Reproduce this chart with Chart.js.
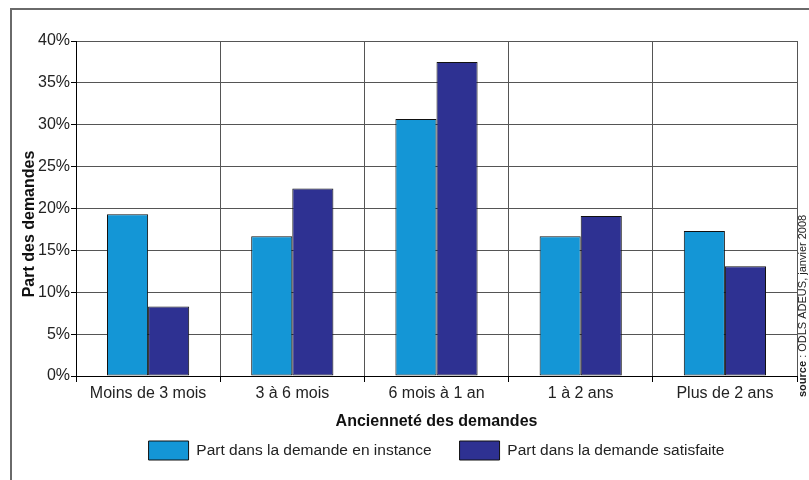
<!DOCTYPE html>
<html lang="fr">
<head>
<meta charset="utf-8">
<title>Ancienneté des demandes</title>
<script src="https://cdn.jsdelivr.net/npm/chart.js@4/dist/chart.umd.min.js"></script>
<style>
  html, body { margin: 0; padding: 0; background: #fff; }
  #wrap { width: 809px; height: 480px; position: relative; }
</style>
</head>
<body>
<div id="wrap"><canvas id="c" width="809" height="480"></canvas></div>
<script>
// Age groups of housing requests
const categories = ['Moins de 3 mois', '3 à 6 mois', '6 mois à 1 an', '1 à 2 ans', 'Plus de 2 ans'];
// Share of pending requests (%)
const pendingShare = [19.3, 16.7, 30.7, 16.7, 17.3];
// Share of satisfied requests (%)
const satisfiedShare = [8.3, 22.4, 37.5, 19.1, 13.1];
const seriesNames = ['Part dans la demande en instance', 'Part dans la demande satisfaite'];
const yTicks = [0, 5, 10, 15, 20, 25, 30, 35, 40];
const xTitle = 'Ancienneté des demandes';
const yTitle = 'Part des demandes';
const sourceBold = 'source';
const sourceRest = ' : ODLS ADEUS, janvier 2008';

const FONT = "'Liberation Sans', Arial, sans-serif";

// Outer frame, vertical axis title and rotated source note
const decor = {
  id: 'decor',
  beforeDraw(chart) {
    const ctx = chart.ctx;
    ctx.save();
    ctx.fillStyle = '#fff';
    ctx.fillRect(0, 0, chart.width, chart.height);
    ctx.strokeStyle = '#6a6a6a';
    ctx.lineWidth = 2;
    ctx.strokeRect(11, 9, 900, 600);
    ctx.restore();
  },
  afterDraw(chart) {
    const ctx = chart.ctx;
    ctx.save();
    ctx.translate(30, 224);
    ctx.rotate(-Math.PI / 2);
    ctx.fillStyle = '#111';
    ctx.font = 'bold 16px ' + FONT;
    ctx.textAlign = 'center';
    ctx.textBaseline = 'middle';
    ctx.fillText(yTitle, 0, 0);
    ctx.restore();

    ctx.save();
    ctx.translate(806, 397);
    ctx.rotate(-Math.PI / 2);
    ctx.fillStyle = '#222';
    ctx.textBaseline = 'alphabetic';
    ctx.textAlign = 'left';
    ctx.font = 'bold 11px ' + FONT;
    ctx.fillText(sourceBold, 0, 0);
    const w = ctx.measureText(sourceBold).width;
    ctx.font = '11px ' + FONT;
    ctx.fillText(sourceRest, w, 0);
    ctx.restore();
  }
};

const barStyle = {
  borderColor: '#111',
  borderWidth: 1,
  borderSkipped: false,
  categoryPercentage: 0.57,
  barPercentage: 1.0
};

new Chart(document.getElementById('c'), {
  type: 'bar',
  data: {
    labels: categories,
    datasets: [
      Object.assign({ label: seriesNames[0], data: pendingShare, backgroundColor: '#1496d6' }, barStyle),
      Object.assign({ label: seriesNames[1], data: satisfiedShare, backgroundColor: '#2e3192' }, barStyle)
    ]
  },
  options: {
    responsive: false,
    animation: false,
    devicePixelRatio: 1,
    layout: { padding: { top: 41, right: 12, bottom: 10, left: 0 } },
    plugins: {
      tooltip: { enabled: false },
      legend: {
        position: 'bottom',
        fullSize: false,
        labels: {
          boxWidth: 40,
          boxHeight: 19,
          padding: 28,
          color: '#222',
          font: { family: FONT, size: 15.5 }
        }
      }
    },
    scales: {
      x: {
        offset: true,
        grid: {
          display: true,
          offset: true,
          color: '#555',
          lineWidth: 1,
          tickLength: 6,
          tickColor: '#000'
        },
        border: { display: true, color: '#000', width: 1 },
        ticks: {
          color: '#222',
          padding: 2,
          maxRotation: 0,
          font: { family: FONT, size: 16 }
        },
        title: {
          display: true,
          text: xTitle,
          color: '#111',
          padding: { top: 0, bottom: -18.6 },
          font: { family: FONT, size: 16, weight: 'bold' }
        },
        afterFit(scale) { scale.height = 37; }
      },
      y: {
        min: 0,
        max: 40,
        afterBuildTicks(scale) { scale.ticks = yTicks.map(v => ({ value: v })); },
        grid: {
          color: '#555',
          lineWidth: 1,
          tickLength: 5,
          tickColor: '#000'
        },
        border: { display: true, color: '#000', width: 1 },
        ticks: {
          color: '#222',
          padding: 1,
          font: { family: FONT, size: 16 },
          callback: v => v + '%'
        },
        afterFit(scale) { scale.width = 76; }
      }
    }
  },
  plugins: [decor]
});
</script>
</body>
</html>
